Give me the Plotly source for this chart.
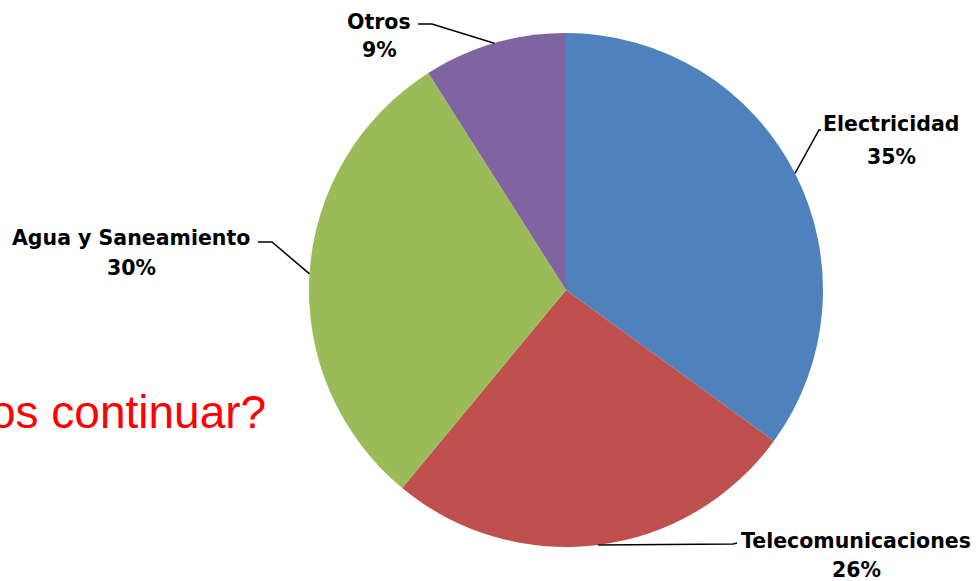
import math
import plotly.graph_objects as go

# ---- data ----
categories = ["Electricidad", "Telecomunicaciones", "Agua y Saneamiento", "Otros"]
values = [35, 26, 30, 9]
colors = ["#4F81BD", "#C0504D", "#9BBB59", "#8064A2"]
background_text = "os continuar?"

# ---- layout geometry (pixels) ----
W, H = 979, 581
CX, CY, R = 566, 290, 257

def px(x):
    return x / W

def py(y):
    return 1 - y / H

# label name centre, percent centre, elbow point near the label, end of leader at label
label_pos = {
    "Electricidad": dict(name=(891, 124), pct=(891, 157), elbow=(819, 130), end=(821, 130)),
    "Telecomunicaciones": dict(name=(856, 541), pct=(856, 570), elbow=(733, 544), end=(737, 543)),
    "Agua y Saneamiento": dict(name=(131, 238), pct=(131, 268), elbow=(272, 242), end=(258, 242)),
    "Otros": dict(name=(379, 22), pct=(379, 50), elbow=(432, 24), end=(418, 24)),
}

fig = go.Figure()
fig.add_trace(go.Pie(
    labels=categories,
    values=values,
    sort=False,
    direction="clockwise",
    rotation=0,
    marker=dict(colors=colors, line=dict(width=0)),
    textinfo="none",
    hoverinfo="label+percent",
    showlegend=False,
    domain=dict(x=[px(CX - R), px(CX + R)], y=[py(CY + R), py(CY - R)]),
))

annotations = []
shapes = []
total = sum(values)
cum = 0
font_lbl = dict(family="DejaVu Sans", size=20.5, color="#000000")
for cat, v in zip(categories, values):
    frac_mid = (cum + v / 2) / total
    cum += v
    ang = 2 * math.pi * frac_mid  # clockwise from top
    ax = CX + R * math.sin(ang)
    ay = CY - R * math.cos(ang)
    p = label_pos[cat]
    pct = round(100 * v / total)
    annotations.append(dict(x=px(p["name"][0]), y=py(p["name"][1]), xref="paper", yref="paper",
                            text=f"<b>{cat}</b>", showarrow=False, font=font_lbl,
                            xanchor="center", yanchor="middle"))
    annotations.append(dict(x=px(p["pct"][0]), y=py(p["pct"][1]), xref="paper", yref="paper",
                            text=f"<b>{pct}%</b>", showarrow=False, font=font_lbl,
                            xanchor="center", yanchor="middle"))
    path = (f"M {px(ax)} {py(ay)} L {px(p['elbow'][0])} {py(p['elbow'][1])} "
            f"L {px(p['end'][0])} {py(p['end'][1])}")
    shapes.append(dict(type="path", xref="paper", yref="paper", path=path,
                       line=dict(color="#000000", width=1.5)))

annotations.append(dict(x=px(268), y=py(412), xref="paper", yref="paper",
                        text=background_text, showarrow=False,
                        font=dict(family="Liberation Sans", size=46, color="#FF0000"),
                        xanchor="right", yanchor="middle"))

fig.update_layout(
    width=W, height=H,
    margin=dict(l=0, r=0, t=0, b=0),
    paper_bgcolor="white", plot_bgcolor="white",
    annotations=annotations, shapes=shapes,
)
fig.write_html("out.html",
               config={"displayModeBar": False},
               post_script="document.body.style.margin='0px';document.body.style.overflow='hidden';")
